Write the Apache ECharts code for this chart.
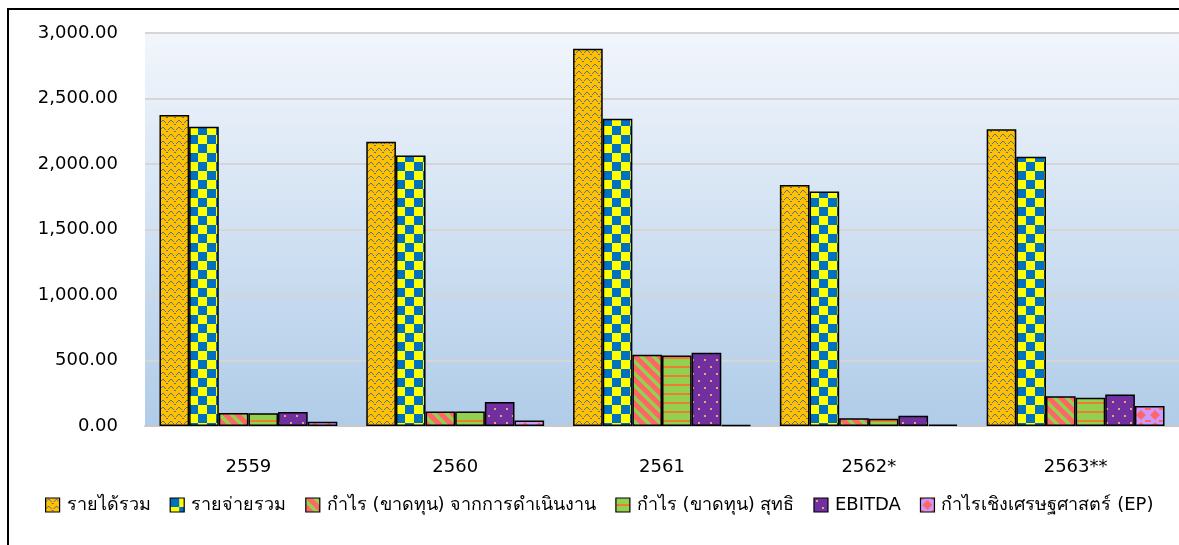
<!DOCTYPE html>
<html>
<head>
<meta charset="utf-8">
<script src="https://cdn.jsdelivr.net/npm/echarts@6/dist/echarts.min.js"></script>
<style>
html,body{margin:0;padding:0;background:#fff;}
#c{width:1179px;height:545px;}
</style>
</head>
<body>
<div id="c"></div>
<script>
// ---- data ----
const categories = ['2559', '2560', '2561', '2562*', '2563**'];
const seriesNames = ['รายได้รวม', 'รายจ่ายรวม', 'กำไร (ขาดทุน) จากการดำเนินงาน', 'กำไร (ขาดทุน) สุทธิ', 'EBITDA', 'กำไรเชิงเศรษฐศาสตร์ (EP)'];
const revenue = [2375, 2170, 2880, 1840, 2265];
const expenses = [2285, 2065, 2345, 1790, 2055];
const opProfit = [100, 110, 543, 60, 228];
const netProfit = [97, 110, 538, 55, 215];
const ebitda = [107, 184, 559, 79, 240];
const ep = [32, 42, 6, 10, 152];
const yTicks = [0, 500, 1000, 1500, 2000, 2500, 3000];

// ---- patterns ----
function tile(w, h, fn) {
  const c = document.createElement('canvas');
  c.width = w; c.height = h;
  const ctx = c.getContext('2d');
  fn(ctx, w, h);
  return { image: c, repeat: 'repeat' };
}
const patRevenue = tile(8, 7, (ctx, w, h) => {
  ctx.fillStyle = '#FFC000'; ctx.fillRect(0, 0, w, h);
  ctx.fillStyle = '#56709C';
  // small arc and dash
  ctx.fillRect(0, 3, 1, 1); ctx.fillRect(1, 2, 1, 1); ctx.fillRect(2, 1, 2, 1);
  ctx.fillRect(4, 2, 1, 1); ctx.fillRect(5, 3, 1, 1);
  ctx.fillRect(6, 5, 2, 1);
});
const patExpenses = tile(18, 18, (ctx, w, h) => {
  ctx.fillStyle = '#FFFF00'; ctx.fillRect(0, 0, w, h);
  ctx.fillStyle = '#0070C0';
  ctx.fillRect(0, 0, 9, 9); ctx.fillRect(9, 9, 9, 9);
});
const patOp = tile(12, 12, (ctx, w, h) => {
  const img = ctx.createImageData(w, h);
  for (let y = 0; y < h; y++) for (let x = 0; x < w; x++) {
    const k = ((x - y) % 12 + 12) % 12;
    const red = k < 7;
    const i = (y * w + x) * 4;
    img.data[i] = red ? 0xFF : 0x92; img.data[i + 1] = red ? 0x66 : 0xD0; img.data[i + 2] = red ? 0x66 : 0x50; img.data[i + 3] = 255;
  }
  ctx.putImageData(img, 0, 0);
});
const patNet = tile(8, 9, (ctx, w, h) => {
  ctx.fillStyle = '#92D050'; ctx.fillRect(0, 0, w, h);
  ctx.fillStyle = '#ED7D31'; ctx.fillRect(0, 6, w, 2);
});
const patEbitda = tile(12, 14, (ctx, w, h) => {
  ctx.fillStyle = '#7030A0'; ctx.fillRect(0, 0, w, h);
  ctx.fillStyle = '#F4A07A';
  ctx.fillRect(2, 2, 2, 2); ctx.fillRect(8, 9, 2, 2);
});
const patEp = tile(14, 12, (ctx, w, h) => {
  ctx.fillStyle = '#CC99FF'; ctx.fillRect(0, 0, w, h);
  ctx.fillStyle = '#FF6666';
  ctx.beginPath();
  ctx.moveTo(7, 2); ctx.lineTo(12, 7); ctx.lineTo(7, 12); ctx.lineTo(2, 7); ctx.closePath();
  ctx.fill();
  ctx.fillRect(0, 0, 3, 2); ctx.fillRect(11, 0, 3, 2);
});
const patterns = [patRevenue, patExpenses, patOp, patNet, patEbitda, patEp];
const values = [revenue, expenses, opProfit, netProfit, ebitda, ep];

const FONT = '"DejaVu Sans", Tahoma, "Noto Sans", sans-serif';
const chart = echarts.init(document.getElementById('c'), null, { renderer: 'canvas' });
chart.setOption({
  animation: false,
  backgroundColor: '#ffffff',
  graphic: [{
    type: 'rect', silent: true, z: 100,
    shape: { x: 8, y: 9, width: 1250, height: 600 },
    style: { fill: 'none', stroke: '#000', lineWidth: 2 }
  }],
  grid: {
    left: 145, right: 0, top: 33, bottom: 119,
    show: true, borderWidth: 0,
    backgroundColor: {
      type: 'linear', x: 0, y: 0, x2: 0, y2: 1,
      colorStops: [{ offset: 0, color: '#f2f6fc' }, { offset: 1, color: '#b0cce8' }]
    }
  },
  legend: {
    left: 40, top: 491,
    itemWidth: 14, itemHeight: 14, itemGap: 19,
    icon: 'rect',
    textStyle: { fontFamily: FONT, fontSize: 18, color: '#000', padding: [0, 0, 0, 2] },
    itemStyle: { borderColor: '#000', borderWidth: 1.2 },
    data: seriesNames
  },
  xAxis: {
    type: 'category', data: categories,
    axisLine: { show: true, lineStyle: { color: '#c8c8c8', width: 2 } },
    axisTick: { show: false },
    axisLabel: { fontFamily: FONT, fontSize: 18, color: '#000', margin: 32 }
  },
  yAxis: {
    type: 'value', min: 0, max: 3000, interval: 500,
    axisLine: { show: false }, axisTick: { show: false },
    splitLine: { show: true, lineStyle: { color: '#d6d6d6', width: 2 } },
    axisLabel: {
      fontFamily: FONT, fontSize: 18, color: '#000', margin: 27, padding: [4, 0, 0, 0],
      formatter: v => yTicks.includes(v) ? v.toLocaleString('en-US', { minimumFractionDigits: 2, maximumFractionDigits: 2 }) : ''
    }
  },
  series: seriesNames.map((n, i) => ({
    name: n, type: 'bar', data: values[i],
    barGap: '0%', barCategoryGap: '14%',
    itemStyle: { color: patterns[i], borderColor: '#000', borderWidth: 1.5 }
  }))
});
</script>
</body>
</html>
